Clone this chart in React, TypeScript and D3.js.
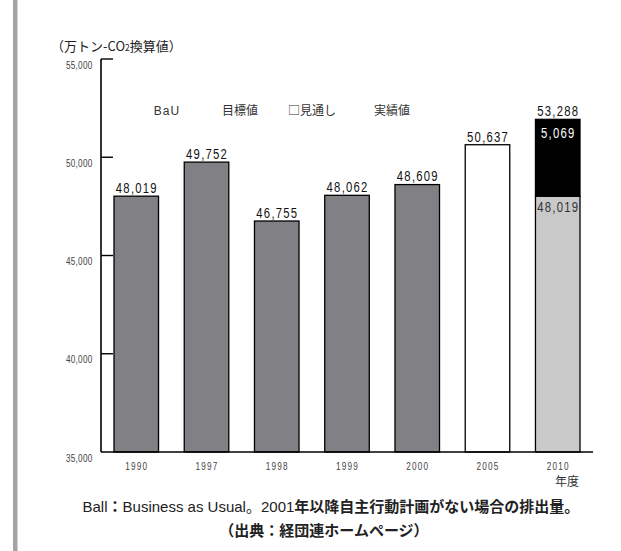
import React from "react";
import * as d3 from "d3";

const categories = ["1990", "1997", "1998", "1999", "2000", "2005", "2010"];
const barValues = [48019, 49752, 46755, 48062, 48609, 50637, 48019];
const barKinds = ["actual", "actual", "actual", "actual", "actual", "outlook", "target"];
const valueLabels = ["48,019", "49,752", "46,755", "48,062", "48,609", "50,637", "48,019"];
// BaU segment on 2010 as drawn in the picture (height), with its printed labels
const bauDrawn = [0, 0, 0, 0, 0, 0, 3910];
const bauLabels = ["", "", "", "", "", "", "5,069"];
const totalLabels = ["", "", "", "", "", "", "53,288"];
const yTicks = [35000, 40000, 45000, 50000, 55000];
const yTickLabels = ["35,000", "40,000", "45,000", "50,000", "55,000"];
const legendItems = ["BaU", "目標値", "□見通し", "実績値"];

const W = 621;
const H = 551;
const SANS = "'Liberation Sans', Arial, sans-serif";
const CJK = "'Noto Sans CJK JP', 'Noto Sans', sans-serif";

const fills: Record<string, string> = {
  actual: "#818185",
  outlook: "#ffffff",
  target: "#c9c9c9",
};

function Narrow({
  x,
  y,
  size,
  sx,
  ls,
  anchor,
  fill,
  children,
}: {
  x: number;
  y: number;
  size: number;
  sx: number;
  ls: number;
  anchor: "start" | "middle" | "end";
  fill: string;
  children: React.ReactNode;
}) {
  return (
    <text
      transform={`translate(${x},${y}) scale(${sx},1)`}
      textAnchor={anchor}
      fontFamily={SANS}
      fontSize={size}
      letterSpacing={ls}
      fill={fill}
    >
      {children}
    </text>
  );
}

export default function App() {
  const x = d3
    .scaleBand<string>()
    .domain(categories)
    .range([101, 593])
    .paddingInner(0.366)
    .paddingOuter(0.185);
  const y = d3.scaleLinear().domain([35000, 55000]).range([452, 59]);
  const bw = x.bandwidth();
  const legendX = [167, 240, 312, 392];

  return (
    <svg
      width={W}
      height={H}
      style={{ position: "absolute", left: 0, top: 0, background: "#fff" }}
    >
      <rect x={13} y={0} width={4.5} height={H} fill="#a4a4a9" />

      {/* unit title */}
      <text x={51} y={51} fontFamily={CJK} fontSize={13} fill="#222">
        （万トン-CO<tspan fontSize={8.5}>2</tspan>換算値）
      </text>

      {/* legend (text only) */}
      {legendItems.map((t, i) => (
        <text
          key={t}
          x={legendX[i]}
          y={115}
          textAnchor="middle"
          fontFamily={i === 0 ? SANS : CJK}
          fontSize={12}
          letterSpacing={i === 0 ? 1 : 0}
          fill="#333"
        >
          {t}
        </text>
      ))}

      {/* bars */}
      {categories.map((c, i) => {
        const x0 = x(c)!;
        const yTop = y(barValues[i]);
        const bauTop = y(barValues[i] + bauDrawn[i]);
        return (
          <g key={c}>
            <rect
              x={x0}
              y={yTop}
              width={bw}
              height={y(35000) - yTop}
              fill={fills[barKinds[i]]}
              stroke="#000"
              strokeWidth={1.3}
            />
            {bauDrawn[i] > 0 && (
              <rect
                x={x0}
                y={bauTop}
                width={bw}
                height={yTop - bauTop}
                fill="#000"
                stroke="#000"
                strokeWidth={1.3}
              />
            )}
          </g>
        );
      })}

      {/* value labels */}
      {categories.map((c, i) => {
        const cx = x(c)! + bw / 2 + 0.6;
        const yTop = y(barValues[i]);
        const inside = barKinds[i] === "target";
        const bauTop = y(barValues[i] + bauDrawn[i]);
        return (
          <g key={"l" + c}>
            <Narrow
              x={cx}
              y={inside ? yTop + 15.5 : yTop - 3.2}
              size={14.5}
              sx={0.78}
              ls={1.6}
              anchor="middle"
              fill={inside ? "#333" : "#111"}
            >
              {valueLabels[i]}
            </Narrow>
            {bauLabels[i] && (
              <Narrow x={cx} y={bauTop + 18.5} size={14.5} sx={0.78} ls={1.6} anchor="middle" fill="#fff">
                {bauLabels[i]}
              </Narrow>
            )}
            {totalLabels[i] && (
              <Narrow x={cx} y={bauTop - 3} size={14.5} sx={0.78} ls={1.6} anchor="middle" fill="#111">
                {totalLabels[i]}
              </Narrow>
            )}
          </g>
        );
      })}

      {/* y axis */}
      <line x1={101} x2={101} y1={y(55000)} y2={y(35000)} stroke="#000" strokeWidth={1.6} />
      <line x1={101} x2={593} y1={y(35000)} y2={y(35000)} stroke="#000" strokeWidth={1.6} />
      {yTicks.map((t, i) => (
        <g key={t}>
          {t > 35000 && (
            <line x1={101} x2={113} y1={y(t)} y2={y(t)} stroke="#000" strokeWidth={1.4} />
          )}
          <Narrow x={92.5} y={y(t) + 9.5} size={10} sx={0.82} ls={0.3} anchor="end" fill="#444">
            {yTickLabels[i]}
          </Narrow>
        </g>
      ))}

      {/* x labels */}
      {categories.map((c) => (
        <Narrow
          key={"x" + c}
          x={x(c)! + bw / 2 + 0.5}
          y={469.5}
          size={10}
          sx={0.82}
          ls={1.4}
          anchor="middle"
          fill="#444"
        >
          {c}
        </Narrow>
      ))}
      <text x={567} y={486} textAnchor="middle" fontFamily={CJK} fontSize={12} fill="#333">
        年度
      </text>

      {/* footnote */}
      <text x={82.5} y={512} fontFamily={CJK} fontSize={15} fill="#222">
        <tspan fontFamily={SANS}>Ball</tspan>
        <tspan fontWeight="bold">：</tspan>
        <tspan fontFamily={SANS}>Business as Usual</tspan>
        <tspan>。</tspan>
        <tspan fontFamily={SANS}>2001</tspan>
        <tspan fontWeight="bold">年以降自主行動計画がない場合の排出量。</tspan>
      </text>
      <text x={324} y={536} textAnchor="middle" fontFamily={CJK} fontSize={15} fontWeight="bold" fill="#222">
        （出典：経団連ホームページ）
      </text>
    </svg>
  );
}
